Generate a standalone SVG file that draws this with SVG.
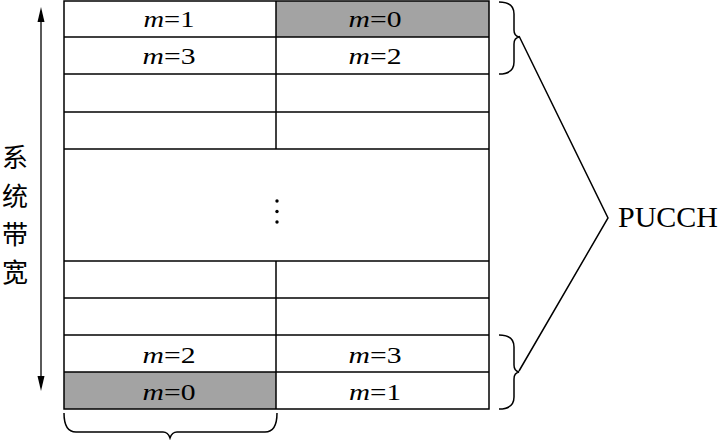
<svg xmlns="http://www.w3.org/2000/svg" width="721" height="440" viewBox="0 0 721 440">
<style>
.br{fill:none;stroke:#000;stroke-width:1.5}
.lbl{font-family:"Liberation Serif","Times New Roman",serif;font-size:23px;text-anchor:middle;fill:#000}
.it{font-style:italic}
.cjk{font-family:"Liberation Serif","Noto Sans CJK SC",serif;font-size:26px;text-anchor:middle;fill:#000}
</style>
<rect width="721" height="440" fill="#fff"/>
<g id="grid">
<rect x="64" y="1" width="425" height="408" fill="#fff"/>
<rect x="276" y="1" width="213" height="36" fill="#a3a3a3"/>
<rect x="64" y="372" width="212" height="37" fill="#a3a3a3"/>
<rect x="64" y="1" width="425" height="408" class="br"/>
<g class="br">
<line x1="64" y1="37" x2="489" y2="37"/>
<line x1="64" y1="74" x2="489" y2="74"/>
<line x1="64" y1="112" x2="489" y2="112"/>
<line x1="64" y1="149" x2="489" y2="149"/>
<line x1="64" y1="261" x2="489" y2="261"/>
<line x1="64" y1="298" x2="489" y2="298"/>
<line x1="64" y1="335" x2="489" y2="335"/>
<line x1="64" y1="372" x2="489" y2="372"/>
<line x1="276" y1="1" x2="276" y2="149"/>
<line x1="276" y1="261" x2="276" y2="409"/>
</g>
</g>
<g id="labels">
<text class="lbl" x="169" y="27" textLength="51" lengthAdjust="spacingAndGlyphs"><tspan class="it">m</tspan>=1</text>
<text class="lbl" x="375" y="27" textLength="53" lengthAdjust="spacingAndGlyphs"><tspan class="it">m</tspan>=0</text>
<text class="lbl" x="169" y="64" textLength="53" lengthAdjust="spacingAndGlyphs"><tspan class="it">m</tspan>=3</text>
<text class="lbl" x="375" y="64" textLength="53" lengthAdjust="spacingAndGlyphs"><tspan class="it">m</tspan>=2</text>
<text class="lbl" x="169" y="363" textLength="53" lengthAdjust="spacingAndGlyphs"><tspan class="it">m</tspan>=2</text>
<text class="lbl" x="375" y="363" textLength="53" lengthAdjust="spacingAndGlyphs"><tspan class="it">m</tspan>=3</text>
<text class="lbl" x="169" y="400" textLength="53" lengthAdjust="spacingAndGlyphs"><tspan class="it">m</tspan>=0</text>
<text class="lbl" x="375" y="400" textLength="52" lengthAdjust="spacingAndGlyphs"><tspan class="it">m</tspan>=1</text>
<circle cx="277" cy="201" r="1.7"/>
<circle cx="277" cy="211.5" r="1.7"/>
<circle cx="277" cy="222" r="1.7"/>
</g>
<g id="axis">
<line x1="41" y1="18" x2="41" y2="380" stroke="#000" stroke-width="1.3"/>
<polygon points="41,7 37.5,22 44.5,22"/>
<polygon points="41,391 37.5,376 44.5,376"/>
<text class="cjk" x="15" y="167">系</text>
<text class="cjk" x="15" y="206">统</text>
<text class="cjk" x="15" y="244">带</text>
<text class="cjk" x="15" y="282">宽</text>
</g>
<g id="connectors">
<path class="br" d="M499,2 Q514,2 514,14 L514,30 Q514,36 519,37 Q514,38 514,44 L514,62 Q514,74 499,74"/>
<path class="br" d="M499,335 Q514,335 514,347 L514,365 Q514,371 519,372 Q514,373 514,379 L514,397 Q514,409 499,409"/>
<path class="br" d="M519,36 L608,218 L519,371"/>
<path class="br" d="M64,413 Q64,432 76,432 L163,432 Q168,432 170,438 Q172,432 177,432 L265,432 Q277,432 277,413"/>
</g>
<g id="pucch">
<text x="618" y="227" style="font-family:'Liberation Serif','Times New Roman',serif;font-size:30px;fill:#000">PUCCH</text>
</g>
</svg>
